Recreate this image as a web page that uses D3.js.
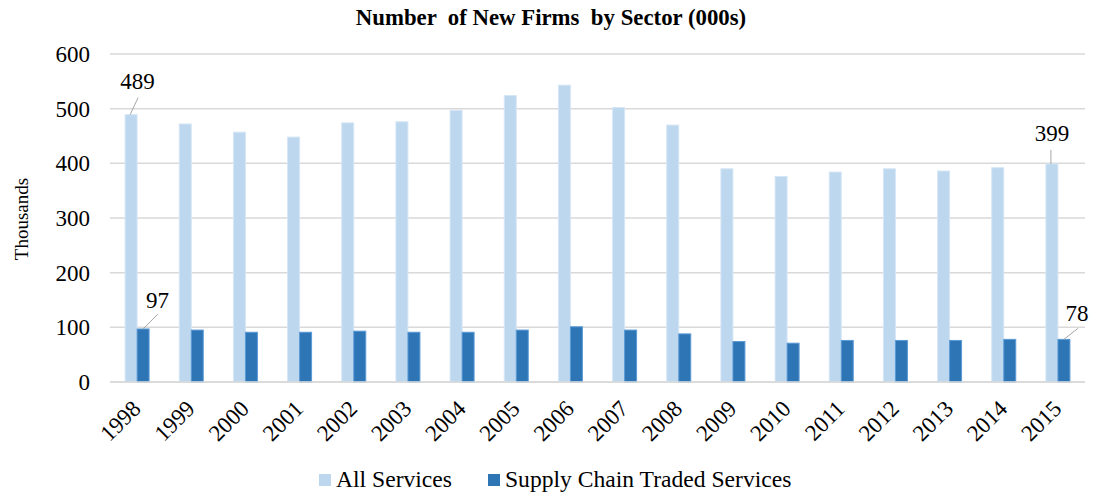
<!DOCTYPE html>
<html>
<head>
<meta charset="utf-8">
<script src="https://cdn.jsdelivr.net/npm/d3@7/dist/d3.min.js"></script>
<style>
  body { margin: 0; background: #fff; }
  svg text { font-family: "Liberation Serif", "DejaVu Serif", serif !important; fill: #000; }
  .grid line { stroke: #d9d9d9; stroke-width: 1.5; }
</style>
</head>
<body>
<svg id="chart"></svg>
<script>
// chart values (thousands of new firms)
var years = ["1998", "1999", "2000", "2001", "2002", "2003", "2004", "2005", "2006",
             "2007", "2008", "2009", "2010", "2011", "2012", "2013", "2014", "2015"]
var allServices = [489, 472, 457, 448, 474, 476, 497, 524, 543, 502, 470, 390, 376, 384, 390, 386, 392, 399]
var supplyChain = [97, 95, 91, 91, 93, 91, 91, 95, 101, 95, 88, 74, 71, 76, 76, 76, 78, 78]
var seriesNames = ["All Services", "Supply Chain Traded Services"]
var yTicks = [0, 100, 200, 300, 400, 500, 600]

var w = 1094
var h = 498
var margin = { top: 54, right: 9, bottom: 116, left: 110 }
var width = w - margin.left - margin.right
var height = h - margin.top - margin.bottom
var colors = ["#bdd7ee", "#2e75b6"]
var strokes = ["#d6e6f5", "#5b9bd5"]
var serif = "'Liberation Serif', 'Times New Roman', serif"

var svg = d3.select("#chart")
    .attr("width", w)
    .attr("height", h)
    .attr("font-family", serif)

var g = svg.append("g")
    .attr("transform", "translate(" + margin.left + "," + margin.top + ")")

var x = d3.scaleBand()
    .domain(years)
    .range([0, width])

var y = d3.scaleLinear()
    .domain([0, 600])
    .range([height, 0])

var barW = 12

// gridlines
g.append("g")
    .attr("class", "grid")
    .selectAll("line")
    .data(yTicks)
    .enter().append("line")
    .attr("x1", 0)
    .attr("x2", width)
    .attr("y1", function (d) { return y(d) })
    .attr("y2", function (d) { return y(d) })

// y axis labels
var yAxis = g.append("g")
    .call(d3.axisLeft(y).tickValues(yTicks).tickSize(0).tickPadding(20))
    .attr("font-family", serif)
    .attr("font-size", 23)
yAxis.select(".domain").remove()
yAxis.selectAll("text")
    .attr("fill", "#000")

// x axis labels rotated
g.append("g")
    .selectAll("text")
    .data(years)
    .enter().append("text")
    .attr("transform", function (d) {
        return "translate(" + (x(d) + x.bandwidth() / 2 + 5) + "," + (height + 28) + ") rotate(-45)"
    })
    .attr("text-anchor", "end")
    .attr("font-size", 23)
    .text(function (d) { return d })

// bars
var series = [allServices, supplyChain]
series.forEach(function (vals, s) {
    g.append("g")
        .selectAll("rect")
        .data(vals)
        .enter().append("rect")
        .attr("x", function (d, i) { return x(years[i]) + x.bandwidth() / 2 - barW + s * barW })
        .attr("y", function (d) { return y(d) })
        .attr("width", barW)
        .attr("height", function (d) { return height - y(d) })
        .attr("fill", colors[s])
        .attr("stroke", strokes[s])
        .attr("stroke-width", 1)
})

// bottom axis line
g.append("line")
    .attr("x1", 0).attr("x2", width)
    .attr("y1", height).attr("y2", height)
    .attr("stroke", "#d9d9d9").attr("stroke-width", 1.5)

// data labels with leader lines (offsets relative to bar top centre)
var labels = [
    { s: 0, i: 0, dx: 6.5, dy: -26, lx: 7, ly: -17, lx0: -1 },
    { s: 1, i: 0, dx: 14.5, dy: -21, lx: 15, ly: -15, lx0: 0 },
    { s: 0, i: 17, dx: 0, dy: -22.5, lx: -1, ly: -14, lx0: -1 },
    { s: 1, i: 17, dx: 13, dy: -18.5, lx: 14, ly: -11, lx0: 0 }
]
labels.forEach(function (l) {
    var v = series[l.s][l.i]
    var cx = x(years[l.i]) + x.bandwidth() / 2 - barW / 2 + l.s * barW
    var cy = y(v)
    g.append("line")
        .attr("x1", cx + l.lx0).attr("y1", cy)
        .attr("x2", cx + l.lx).attr("y2", cy + l.ly)
        .attr("stroke", "#a6a6a6").attr("stroke-width", 1)
    g.append("text")
        .attr("x", cx + l.dx)
        .attr("y", cy + l.dy)
        .attr("text-anchor", "middle")
        .attr("font-size", 23)
        .text(v)
})

// title
svg.append("text")
    .attr("x", 551)
    .attr("y", 25)
    .attr("text-anchor", "middle")
    .attr("font-size", 22.8)
    .attr("font-weight", "bold")
    .attr("xml:space", "preserve")
    .style("white-space", "pre")
    .text("Number  of New Firms  by Sector (000s)")

// y title
svg.append("text")
    .attr("transform", "translate(28,219) rotate(-90)")
    .attr("text-anchor", "middle")
    .attr("font-size", 19)
    .text("Thousands")

// legend
var legend = svg.append("g")
var lx = [319, 488]
seriesNames.forEach(function (name, s) {
    legend.append("rect")
        .attr("x", lx[s]).attr("y", 474)
        .attr("width", 12).attr("height", 12)
        .attr("fill", colors[s])
    legend.append("text")
        .attr("x", lx[s] + 17).attr("y", 487)
        .attr("font-size", 23.6)
        .text(name)
})
</script>
</body>
</html>
